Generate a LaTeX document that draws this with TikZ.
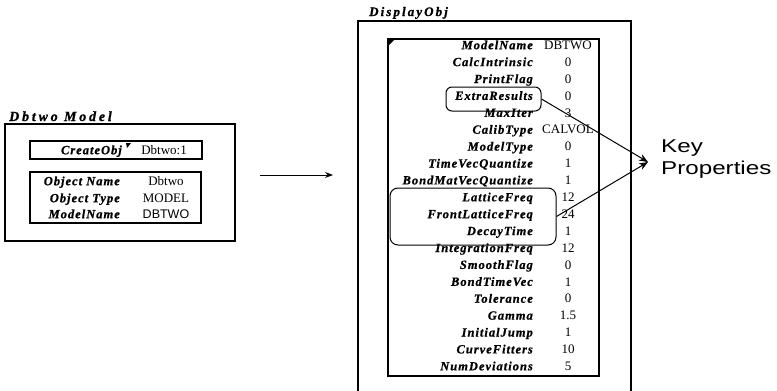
\documentclass[tikz,border=0pt]{standalone}
\usepackage{fontspec}
\setmainfont{Liberation Serif}
\newfontfamily\lblfont[LetterSpace=8,FakeBold=0.8]{Liberation Serif}
\newfontfamily\ttlfont[LetterSpace=20,FakeBold=0.8]{Liberation Serif}
\newfontfamily\dofont[LetterSpace=16,FakeBold=0.8]{Liberation Serif}
\newfontfamily\kpfont[FakeStretch=1.3]{Liberation Sans}
\newfontfamily\sansf{Liberation Sans}
\usetikzlibrary{arrows.meta}
\tikzset{
  lbl/.style={anchor=base east, inner sep=0pt, font=\fontsize{12.5}{14}\selectfont\lblfont\bfseries\itshape},
  val/.style={anchor=base, inner sep=0pt, font=\fontsize{13}{14}\selectfont},
  box/.style={draw, line width=1.2pt, inner sep=0pt},
  rbox/.style={draw, line width=1pt, rounded corners=6pt, inner sep=0pt},
  conn/.style={line width=1pt, -{Stealth[length=9pt,width=7pt]}},
  ttl/.style={anchor=base west, inner sep=0pt, font=\fontsize{14}{15}\selectfont\ttlfont\bfseries\itshape}
}
\begin{document}
\begin{tikzpicture}[x=1pt,y=-1pt]
\useasboundingbox (0,0) rectangle (777,391);
\fill[white] (0,0) rectangle (777,391);
% ---- left: Dbtwo Model ----
\node[ttl] (t1) at (9,121) {Dbtwo Model};
\node[box, line width=1.3pt, minimum width=230pt, minimum height=117pt] (lbox) at (120,182.5) {};
\node[box, minimum width=172pt, minimum height=18pt] (cbox) at (116,150) {};
\node[lbl] (cl) at (122,154.2) {CreateObj};
\node[val] (cv) at (164,154.2) {Dbtwo:1};
\fill (126,143) -- (131,143) -- (127,148) -- cycle;
\node[box, minimum width=171pt, minimum height=51pt] (pbox) at (115.5,197.5) {};
\node[lbl] (p1) at (120,185.2) {Object Name};
\node[val] (q1) at (166,185.2) {Dbtwo};
\node[lbl] (p2) at (120,202.2) {Object Type};
\node[val] (q2) at (166,202.2) {MODEL};
\node[lbl] (p3) at (120,218.2) {ModelName};
\node[val, font=\fontsize{12.5}{14}\selectfont\sansf] (q3) at (166,218.2) {DBTWO};
% ---- arrow ----
\coordinate (a1) at (260,175);
\coordinate (a2) at (333,175);
\draw[line width=1pt, -{Stealth[length=8pt,width=6pt]}] (a1) -- (a2);
% ---- right: DisplayObj ----
\node[ttl, font=\fontsize{13}{15}\selectfont\dofont\bfseries\itshape] (t2) at (369,16) {DisplayObj};
\draw[line width=1.3pt] (358,400) -- (358,21) -- (631,21) -- (631,400);
\node[box, minimum width=211pt, minimum height=337pt] (inner) at (493.5,207.5) {};
\fill (389,40) -- (394,40) -- (389,45) -- cycle;
\foreach \l/\v [count=\i from 0] in {ModelName/DBTWO, CalcIntrinsic/0, PrintFlag/0, ExtraResults/0, MaxIter/3, CalibType/CALVOL, ModelType/0, TimeVecQuantize/1, BondMatVecQuantize/1, LatticeFreq/12, FrontLatticeFreq/24, DecayTime/1, IntegrationFreq/12, SmoothFlag/0, BondTimeVec/1, Tolerance/0, Gamma/1.5, InitialJump/1, CurveFitters/10, NumDeviations/5} {
  \node[lbl] (l\i) at (533,{45+16.9*\i+4.2}) {\l};
  \node[val] (v\i) at (568,{45+16.9*\i+4.4}) {\v};
}
\node[rbox, minimum width=95pt, minimum height=24pt] (er) at (493.5,99) {};
\node[rbox, rounded corners=8pt, minimum width=166pt, minimum height=57pt] (lf) at (473,216.5) {};
\coordinate (kp) at (648,162);
\draw[conn] (er.east) -- (kp);
\draw[conn] (lf.east) -- (kp);
\node[anchor=west, align=left, inner sep=0pt, font=\fontsize{18.6}{22}\selectfont\kpfont] (kpt) at (661,159) {Key\\Properties};
\end{tikzpicture}
\end{document}
